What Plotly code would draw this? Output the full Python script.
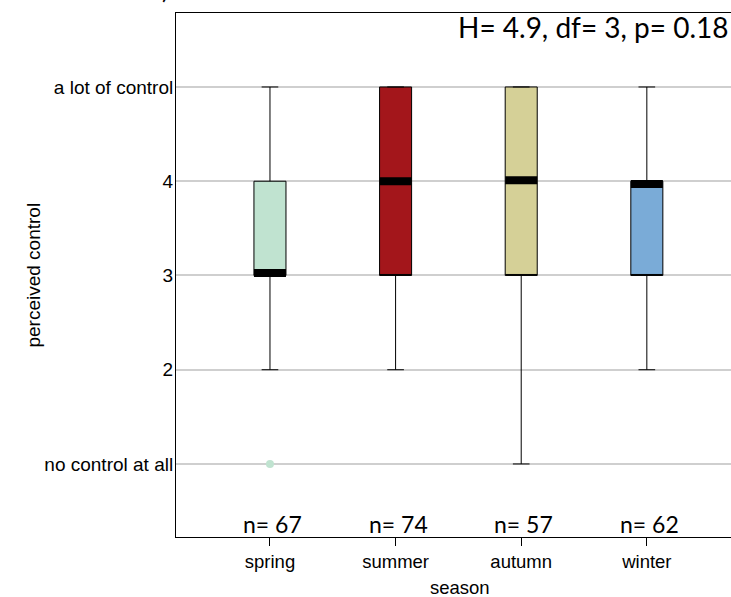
import plotly.graph_objects as go

seasons = ["spring", "summer", "autumn", "winter"]
q1 = [3, 3, 3, 3]
q3 = [4, 5, 5, 4]
median = [3.025, 4.0, 4.01, 3.97]
lower = [2, 2, 1, 2]
upper = [5, 5, 5, 5]
outlier_season = ["spring"]
outlier_value = [1]
n_labels = ["n= 67", "n= 74", "n= 57", "n= 62"]
colors = ["#c0e3d0", "#a3161b", "#d5d097", "#7aabd7"]
y_tickvals = [1, 2, 3, 4, 5]
y_ticktext = ["no control at all", "2", "3", "4", "a lot of control"]
stat_text = "H= 4.9, df= 3, p= 0.18"

pos = list(range(1, len(seasons) + 1))
BW = 0.255

fig = go.Figure()
for i, s in enumerate(seasons):
    fig.add_trace(go.Box(
        x=[pos[i]], q1=[q1[i]], median=[q1[i]], q3=[q3[i]],
        lowerfence=[lower[i]], upperfence=[upper[i]],
        width=BW, whiskerwidth=0.52,
        fillcolor=colors[i], line=dict(color="black", width=1),
        boxpoints=False, showlegend=False, hoverinfo="skip",
    ))
    fig.add_trace(go.Scatter(
        x=[pos[i] - BW / 2, pos[i] + BW / 2], y=[median[i], median[i]],
        mode="lines", line=dict(color="black", width=8),
        showlegend=False, hoverinfo="skip",
    ))

out_x = [pos[seasons.index(s)] for s in outlier_season]
fig.add_trace(go.Scatter(
    x=out_x, y=outlier_value, mode="markers",
    marker=dict(color=colors[0], size=8, line=dict(width=0)),
    showlegend=False, hoverinfo="skip",
))

for i, t in enumerate(n_labels):
    fig.add_annotation(x=pos[i] + 0.02, y=0.225, yref="y", xref="x", text=t,
                       showarrow=False, yanchor="bottom", yshift=-3,
                       font=dict(family="Lato", size=23, color="black"))

fig.add_annotation(x=1.0, y=0.974, xref="paper", yref="paper", text=stat_text,
                   showarrow=False, xanchor="right", yanchor="middle",
                   font=dict(family="Lato", size=28, color="black"))

fig.add_annotation(x=-0.281, y=0.5, xref="paper", yref="paper", text="perceived control",
                   textangle=-90, showarrow=False,
                   font=dict(family="Liberation Sans", size=19, color="black"))
fig.add_annotation(x=0.512, y=-0.097, xref="paper", yref="paper", text="season",
                   showarrow=False, yanchor="middle",
                   font=dict(family="Liberation Sans", size=18.5, color="black"))
fig.add_annotation(x=-0.028, y=1.0, xref="paper", yref="paper", text=")",
                   showarrow=False, yanchor="bottom", yshift=7,
                   font=dict(family="Lato", size=24, color="black"))

fig.update_layout(
    width=731, height=597,
    margin=dict(l=176, r=0, t=13, b=60),
    plot_bgcolor="white", paper_bgcolor="white",
    font=dict(family="Liberation Sans", size=19, color="black"),
    xaxis=dict(range=[0.252, 4.67], tickvals=pos, ticktext=seasons,
               showline=True, linecolor="black", linewidth=1, mirror=True,
               ticks="outside", ticklen=8, tickcolor="black", showgrid=False,
               zeroline=False, tickfont=dict(size=18.5)),
    yaxis=dict(range=[0.225, 5.785], tickvals=y_tickvals, ticktext=y_ticktext,
               showline=True, linecolor="black", linewidth=1,
               ticks="", showgrid=True, gridcolor="#cfcfcf", gridwidth=1.5,
               zeroline=False, ticklabelstandoff=-2),
)

fig.write_html("out.html", config={"displayModeBar": False},
               post_script="document.body.style.margin='0';document.body.style.overflow='hidden';")
